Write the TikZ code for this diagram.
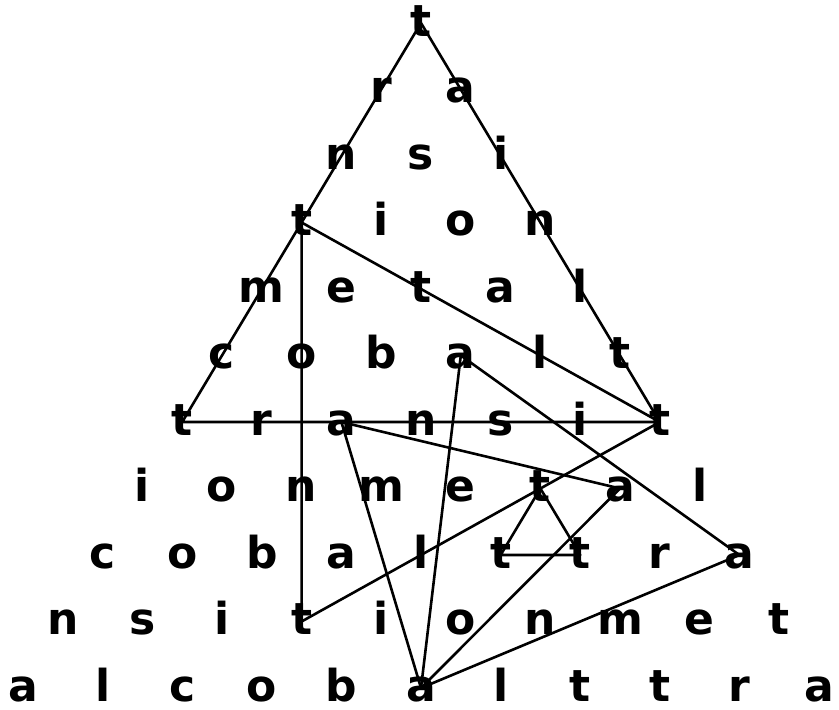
\documentclass[tikz,border=0pt]{standalone}
\usepackage{fontspec}
\setmainfont{DejaVu Sans}
\tikzset{
  letter/.style={font=\fontsize{44}{52}\selectfont\bfseries, inner sep=0pt, text height=26pt, text depth=0pt, anchor=center},
  link/.style={line width=2.6pt, line join=round, line cap=round}
}
\begin{document}
\begin{tikzpicture}[x=1pt,y=-1pt]
\useasboundingbox (0,0) rectangle (839,710);
\foreach \r/\letters in {1/{t},2/{r,a},3/{n,s,i},4/{t,i,o,n},5/{m,e,t,a,l},6/{c,o,b,a,l,t},7/{t,r,a,n,s,i,t},8/{i,o,n,m,e,t,a,l},9/{c,o,b,a,l,t,t,r,a},10/{n,s,i,t,i,o,n,m,e,t},11/{a,l,c,o,b,a,l,t,t,r,a}}{
  \foreach \l [count=\j from 0] in \letters {
    \node[letter] (n\r-\j) at ({421+(\j-(\r-1)/2)*79.6},{23+(\r-1)*66.5}) {\l};
  }
}
% big triangle
\draw[link] (n1-0.center) -- (n7-0.center) -- (n7-6.center) -- cycle;
\draw[link] (n4-0.center) -- (n7-6.center);
\draw[link] (n4-0.center) -- (n10-3.center) -- (n7-6.center);
% a lines
\draw[link] (n6-3.center) -- (n11-5.center);
\draw[link] (n6-3.center) -- (n9-8.center) -- (n11-5.center);
\draw[link] (n7-2.center) -- (n11-5.center);
\draw[link] (n7-2.center) -- (n8-6.center) -- (n11-5.center);
% small triangle
\draw[link] (n8-5.center) -- (n9-5.center) -- (n9-6.center) -- cycle;
\end{tikzpicture}
\end{document}
